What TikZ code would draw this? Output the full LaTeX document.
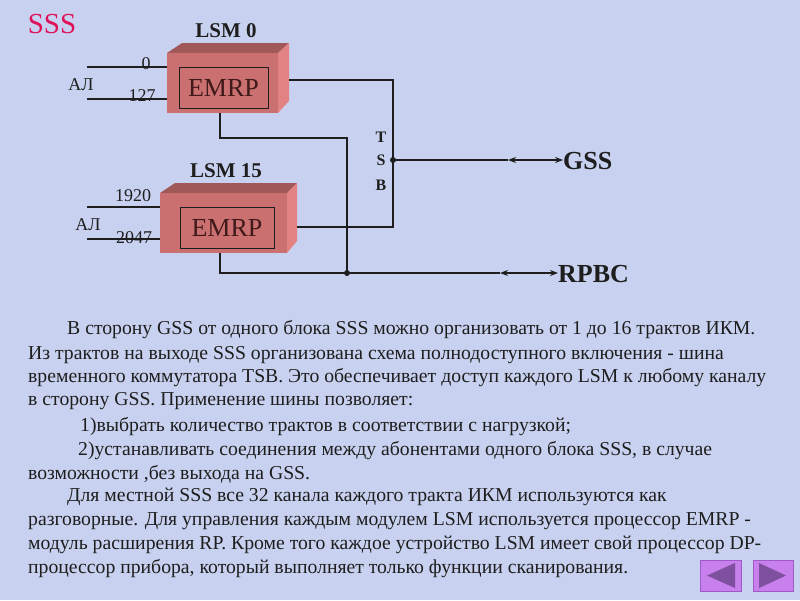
\documentclass[tikz,border=0pt]{standalone}
\usepackage{fontspec}
\setmainfont{Liberation Serif}
\usetikzlibrary{arrows.meta}
\definecolor{bg}{RGB}{200,210,240}
\definecolor{boxfront}{RGB}{202,112,112}
\definecolor{boxtop}{RGB}{160,88,88}
\definecolor{boxside}{RGB}{226,130,130}
\definecolor{sssred}{RGB}{222,18,88}
\definecolor{ink}{RGB}{30,30,30}
\definecolor{navfill}{RGB}{200,128,236}
\definecolor{navtri}{RGB}{128,80,160}
\definecolor{navedge}{RGB}{160,90,200}
\tikzset{
  wire/.style={draw=ink, line width=1.3pt},
  biarrow/.style={draw=ink, line width=1.1pt, {Stealth[length=8pt,width=6pt]}-{Stealth[length=8pt,width=6pt]}},
  lbl/.style={text=ink, inner sep=0pt, font=\fontsize{18}{20}\selectfont},
  title/.style={text=ink, inner sep=0pt, font=\fontsize{21}{24}\selectfont\bfseries},
  big/.style={text=ink, inner sep=0pt, font=\fontsize{26}{28}\selectfont\bfseries},
  emrp/.style={draw=ink, line width=0.8pt, text=ink!85!red, inner sep=0pt, font=\fontsize{26}{28}\selectfont},
  para/.style={text=ink, inner sep=0pt, anchor=west, font=\fontsize{19.7}{22}\selectfont},
  dot/.style={circle, fill=ink, inner sep=0pt, minimum size=6pt},
  navbtn/.style={fill=navfill, draw=navedge, line width=0.6pt},
}
\begin{document}
\begin{tikzpicture}[x=1pt,y=-1pt]
\fill[bg] (0,0) rectangle (800,600);
\useasboundingbox (0,0) rectangle (800,600);

\node[text=sssred, inner sep=0pt, font=\fontsize{29}{30}\selectfont] (sss) at (52,24) {SSS};

% ---- LSM 0 box
\node[title] (lsm0) at (226,31) {LSM 0};
\fill[boxtop] (167,53) -- (182,43) -- (289,43) -- (278,53) -- cycle;
\fill[boxside] (278,53) -- (289,43) -- (289,101) -- (278,113) -- cycle;
\fill[boxfront] (167,53) rectangle (278,113);
\node[emrp, minimum width=89pt, minimum height=41pt] (e0) at (223.5,87.5) {EMRP};
\coordinate (b0in1) at (167,67);
\coordinate (b0in2) at (167,99);
\coordinate (b0out) at (289,80);
\coordinate (b0bot) at (220,113);
\coordinate (l0a) at (87,67);
\coordinate (l0b) at (87,99);
\draw[wire] (l0a) -- (b0in1);
\draw[wire] (l0b) -- (b0in2);
\node[lbl] (n0) at (146,64) {0};
\node[lbl] (n127) at (142,96) {127};
\node[lbl] (al0) at (81,85) {АЛ};

% ---- LSM 15 box
\node[title] (lsm15) at (226,171) {LSM 15};
\fill[boxtop] (160,193) -- (175,183) -- (297,183) -- (287,193) -- cycle;
\fill[boxside] (287,193) -- (297,183) -- (297,241) -- (287,253) -- cycle;
\fill[boxfront] (160,193) rectangle (287,253);
\node[emrp, minimum width=94pt, minimum height=41pt] (e15) at (227,227.5) {EMRP};
\coordinate (b1in1) at (160,207);
\coordinate (b1in2) at (160,239);
\coordinate (b1out) at (297,227);
\coordinate (b1bot) at (220,253);
\coordinate (l1a) at (87,207);
\coordinate (l1b) at (87,239);
\draw[wire] (l1a) -- (b1in1);
\draw[wire] (l1b) -- (b1in2);
\node[lbl] (n1920) at (133,196) {1920};
\node[lbl] (n2047) at (134,238) {2047};
\node[lbl] (al1) at (88,225) {АЛ};

% ---- TSB bus
\coordinate (tsbtop) at (393,80);
\coordinate (tsbbot) at (393,227);
\node[dot] (tsbdot) at (393,160) {};
\draw[wire] (b0out) -- (tsbtop) -- (tsbbot) -- (b1out);
\node[text=ink, inner sep=0pt, font=\fontsize{16}{18}\selectfont\bfseries] (tsbT) at (381,137) {T};
\node[text=ink, inner sep=0pt, font=\fontsize{16}{18}\selectfont\bfseries] (tsbS) at (381,160) {S};
\node[text=ink, inner sep=0pt, font=\fontsize{16}{18}\selectfont\bfseries] (tsbB) at (381,185) {B};

% ---- RP bus
\coordinate (rpk1) at (220,138);
\coordinate (rpk2) at (347,138);
\coordinate (rpk3) at (220,273);
\node[dot] (rpdot) at (347,273) {};
\draw[wire] (b0bot) -- (rpk1) -- (rpk2) -- (rpdot.center);
\draw[wire] (b1bot) -- (rpk3) -- (rpdot.center);

% ---- outputs
\node[big, anchor=west] (gss) at (563,161) {GSS};
\node[big, anchor=west] (rpbc) at (558,274) {RPBC};
\coordinate (ga) at (508,160);
\coordinate (ra) at (500,273);
\draw[wire] (tsbdot.center) -- (ga);
\draw[biarrow] (ga) -- (gss.west|-ga);
\draw[wire] (rpdot.center) -- (ra);
\draw[biarrow] (ra) -- (rpbc.west|-ra);

% ---- paragraph
\node[para] (p1) at (67,330) {В сторону GSS от одного блока SSS можно организовать от 1 до 16 трактов ИКМ.};
\node[para] (p2) at (28,355) {Из трактов на выходе SSS организована схема полнодоступного включения - шина};
\node[para] (p3) at (28,378) {временного коммутатора TSB. Это обеспечивает доступ каждого LSM к любому каналу};
\node[para] (p4) at (28,401) {в сторону GSS. Применение шины позволяет:};
\node[para] (p5) at (80,427) {1)выбрать количество трактов в соответствии с нагрузкой;};
\node[para] (p6) at (78,451) {2)устанавливать соединения между абонентами одного блока SSS, в случае};
\node[para] (p7) at (28,474) {возможности ,без выхода на GSS.};
\node[para] (p8) at (67,497) {Для местной SSS все 32 канала каждого тракта ИКМ используются как};
\node[para] (p9) at (28,521) {разговорные. Для управления каждым модулем LSM используется процессор EMRP -};
\node[para] (p10) at (28,545) {модуль расширения RP. Кроме того каждое устройство LSM имеет свой процессор DP-};
\node[para] (p11) at (28,569) {процессор прибора, который выполняет только функции сканирования.};

% ---- navigation buttons
\draw[navbtn] (700,560) rectangle (741,591);
\fill[navtri] (707,575.5) -- (735,563) -- (735,588) -- cycle;
\draw[navbtn] (753,560) rectangle (793,591);
\fill[navtri] (786,575.5) -- (759,563) -- (759,588) -- cycle;
\end{tikzpicture}
\end{document}
